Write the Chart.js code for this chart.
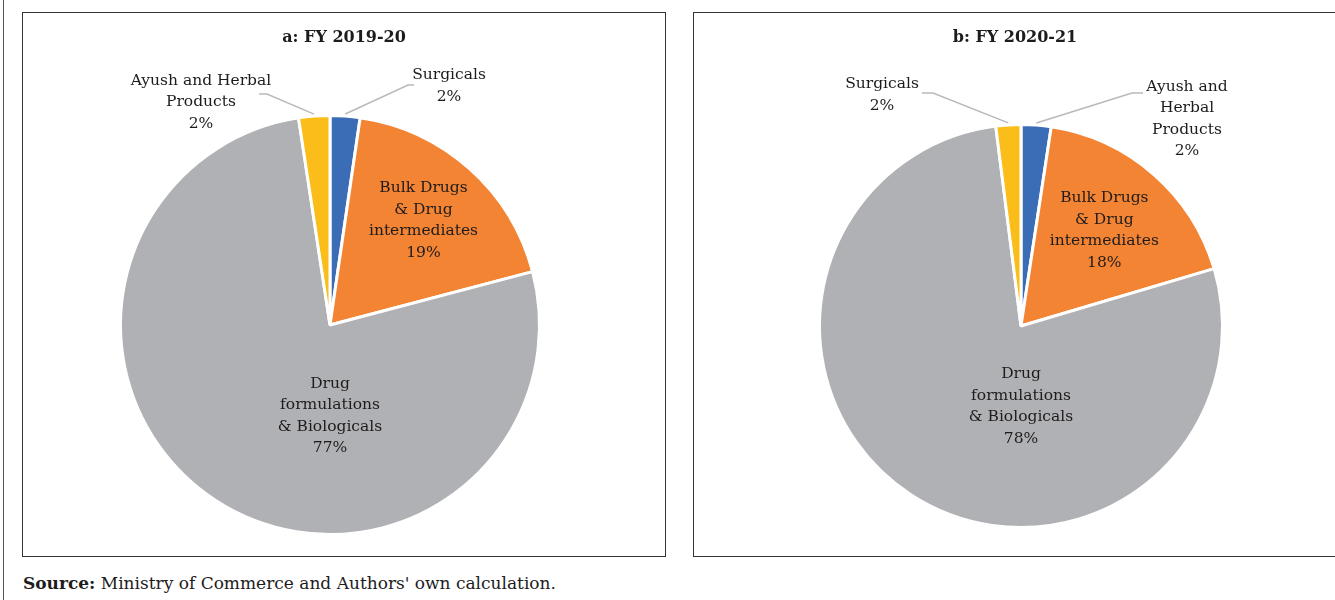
<!DOCTYPE html>
<html><head><meta charset="utf-8">
<script src="https://cdn.jsdelivr.net/npm/chart.js@4.4.1/dist/chart.umd.min.js"></script>
<style>
body{margin:0;width:1335px;height:600px;overflow:hidden;background:#fff;font-family:"DejaVu Serif",serif;position:relative}
.box{position:absolute;border:1px solid #333;box-sizing:border-box;top:12px;height:545px}
#boxA{left:22px;width:644px}
#boxB{left:693px;width:644px}
canvas{display:block}
#outer{position:absolute;left:3px;top:0;width:1px;height:600px;background:#555}
#src{position:absolute;left:23px;top:571px;font-size:17px;line-height:24px;color:#1e1b1c;white-space:nowrap}
</style></head><body>
<div id="outer"></div>
<div class="box" id="boxA"><canvas id="cA" width="642" height="543"></canvas></div>
<div class="box" id="boxB"><canvas id="cB" width="642" height="543"></canvas></div>
<div id="src"><b>Source:</b> Ministry of Commerce and Authors' own calculation.</div>
<script>
// ---- data ----
const titleA = 'a: FY 2019-20';
const categoriesA = ['Surgicals', 'Bulk Drugs & Drug intermediates', 'Drug formulations & Biologicals', 'Ayush and Herbal Products'];
const linesA = [['Surgicals'], ['Bulk Drugs', '& Drug', 'intermediates'], ['Drug', 'formulations', '& Biologicals'], ['Ayush and Herbal', 'Products']];
const valuesA = [2.3, 18.6, 76.7, 2.4];

const titleB = 'b: FY 2020-21';
const categoriesB = ['Ayush and Herbal Products', 'Bulk Drugs & Drug intermediates', 'Drug formulations & Biologicals', 'Surgicals'];
const linesB = [['Ayush and', 'Herbal', 'Products'], ['Bulk Drugs', '& Drug', 'intermediates'], ['Drug', 'formulations', '& Biologicals'], ['Surgicals']];
const valuesB = [2.4, 18.0, 77.6, 2.0];

const sliceColors = ['#3a6db6', '#f28433', '#b0b1b4', '#fbbd19'];

// ---- label plugin ----
const sliceLabels = {
  id: 'sliceLabels',
  afterDatasetsDraw(chart, args, o) {
    const ctx = chart.ctx;
    const meta = chart.getDatasetMeta(0);
    const a0 = meta.data[0];
    const cx = a0.x, cy = a0.y, r = a0.outerRadius;
    const ds = chart.data.datasets[0];
    const total = ds.data.reduce((s, v) => s + v, 0);
    ctx.save();
    ctx.textAlign = 'center';
    ctx.textBaseline = 'middle';
    meta.data.forEach((arc, i) => {
      const lines = o.lines[i].concat([Math.round(ds.data[i] / total * 100) + '%']);
      const p = o.place[i];
      const mid = (arc.startAngle + arc.endAngle) / 2;
      let tx, ty;
      if (p.type === 'inside') {
        const ang = p.angle != null ? (p.angle - 90) * Math.PI / 180 : mid;
        tx = cx + Math.cos(ang) * r * p.f;
        ty = cy + Math.sin(ang) * r * p.f;
      } else {
        tx = cx + p.dx; ty = cy + p.dy;
        const sx = cx + Math.cos(mid) * (r + 2), sy = cy + Math.sin(mid) * (r + 2);
        ctx.strokeStyle = o.lineColor; ctx.lineWidth = 1.5;
        ctx.beginPath();
        ctx.moveTo(sx, sy);
        ctx.lineTo(cx + p.ex, cy + p.ey);
        ctx.lineTo(cx + p.ox, cy + p.ey);
        ctx.stroke();
      }
      ctx.font = o.font; ctx.fillStyle = o.color;
      const lh = o.lineHeight;
      const y0 = ty - (lines.length - 1) * lh / 2;
      lines.forEach((t, k) => ctx.fillText(t, tx, y0 + k * lh));
    });
    ctx.font = o.titleFont; ctx.fillStyle = o.color;
    ctx.fillText(o.title, chart.width / 2, o.titleY);
    ctx.restore();
  }
};

function makePie(id, cats, vals, lines, title, pad, place) {
  new Chart(document.getElementById(id), {
    type: 'pie',
    data: { labels: cats, datasets: [{ data: vals, backgroundColor: sliceColors, borderColor: '#ffffff', borderWidth: 3 }] },
    options: {
      responsive: false, animation: false,
      layout: { padding: pad },
      plugins: {
        legend: { display: false }, tooltip: { enabled: false }, title: { display: false },
        sliceLabels: {
          lines: lines, place: place, title: title,
          font: '15.5px "DejaVu Serif"', titleFont: 'bold 16px "DejaVu Serif"',
          color: '#1e1b1c', lineColor: '#b9b9b9', lineHeight: 21.5, titleY: 25
        }
      }
    },
    plugins: [sliceLabels]
  });
}

makePie('cA', categoriesA, valuesA, linesA, titleA,
  { top: 101, bottom: 20, left: 96, right: 124 },
  [
    { type: 'outside', dx: 119, dy: -239, ex: 78, ey: -240, ox: 84 },
    { type: 'inside', f: 0.67 },
    { type: 'inside', angle: 180, f: 0.435 },
    { type: 'outside', dx: -129, dy: -223, ex: -63, ey: -231, ox: -71 }
  ]);
makePie('cB', categoriesB, valuesB, linesB, titleB,
  { top: 110, bottom: 27, left: 124, right: 112 },
  [
    { type: 'outside', dx: 166, dy: -207, ex: 111, ey: -233, ox: 122 },
    { type: 'inside', f: 0.63 },
    { type: 'inside', angle: 180, f: 0.40 },
    { type: 'outside', dx: -139, dy: -231, ex: -88, ey: -233, ox: -99 }
  ]);
</script>
</body></html>
